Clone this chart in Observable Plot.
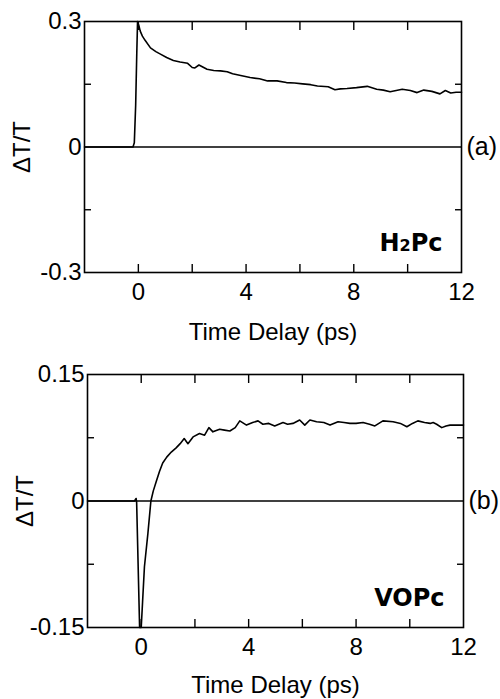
<!DOCTYPE html>
<html>
<head>
<meta charset="utf-8">
<script src="https://cdn.jsdelivr.net/npm/d3@7"></script>
<script src="https://cdn.jsdelivr.net/npm/@observablehq/plot@0.6"></script>
<style>
  html, body { margin: 0; padding: 0; background: #fff; }
  #chart { width: 500px; height: 699px; }
  #chart svg { display: block; }
</style>
</head>
<body>
<div id="chart"></div>
<script>
// ---- data ----
const timeA = [-2, -1, -0.2, -0.15, -0.1, -0.06, -0.03, 0.02, 0.07, 0.15, 0.25, 0.45, 0.65, 0.82, 1.05, 1.3, 1.55, 1.83, 2.0, 2.1, 2.25, 2.55, 2.8, 3.05, 3.3, 3.5, 3.8, 4.15, 4.5, 4.8, 5.15, 5.5, 5.8, 6.1, 6.4, 6.65, 7.05, 7.3, 7.5, 7.75, 8.1, 8.5, 8.85, 9.1, 9.35, 9.8, 10.1, 10.35, 10.6, 10.9, 11.2, 11.4, 11.6, 11.8, 12];
const valueA = [0, 0, 0, 0.01, 0.1, 0.22, 0.3, 0.29, 0.277, 0.265, 0.255, 0.237, 0.228, 0.222, 0.214, 0.207, 0.203, 0.2, 0.19, 0.189, 0.196, 0.186, 0.183, 0.182, 0.18, 0.175, 0.171, 0.166, 0.163, 0.158, 0.158, 0.154, 0.153, 0.151, 0.149, 0.146, 0.144, 0.137, 0.139, 0.140, 0.142, 0.145, 0.138, 0.136, 0.132, 0.138, 0.135, 0.13, 0.136, 0.133, 0.127, 0.135, 0.129, 0.131, 0.131];

const timeB = [-2, -0.25, -0.19, -0.17, -0.06, 0.0, 0.05, 0.12, 0.25, 0.36, 0.45, 0.56, 0.68, 0.8, 0.95, 1.12, 1.3, 1.45, 1.6, 1.74, 1.93, 2.17, 2.36, 2.52, 2.67, 2.92, 3.1, 3.3, 3.5, 3.67, 3.92, 4.15, 4.35, 4.53, 4.75, 4.97, 5.28, 5.45, 5.65, 5.9, 6.09, 6.28, 6.53, 6.8, 7.03, 7.33, 7.55, 7.77, 8.0, 8.26, 8.5, 8.7, 9.0, 9.38, 9.65, 9.89, 10.1, 10.3, 10.55, 10.76, 10.87, 11.0, 11.19, 11.35, 11.5, 11.75, 12];
const valueB = [0, 0, 0.003, -0.002, -0.15, -0.15, -0.12, -0.078, -0.038, 0, 0.012, 0.023, 0.035, 0.045, 0.052, 0.058, 0.063, 0.068, 0.074, 0.068, 0.076, 0.08, 0.078, 0.087, 0.082, 0.085, 0.084, 0.083, 0.087, 0.095, 0.09, 0.093, 0.095, 0.091, 0.092, 0.089, 0.093, 0.091, 0.092, 0.096, 0.090, 0.096, 0.094, 0.093, 0.090, 0.094, 0.093, 0.092, 0.092, 0.093, 0.091, 0.089, 0.095, 0.094, 0.092, 0.088, 0.092, 0.095, 0.093, 0.092, 0.093, 0.091, 0.087, 0.089, 0.090, 0.090, 0.090];

const xDomain = [-2, 12];
const xMinorTicks = [0, 2, 4, 6, 8, 10];
const xTickLabels = [0, 4, 8, 12];
const yDomainA = [-0.3, 0.3];
const yMinorTicksA = [-0.15, 0.15];
const yTickLabelsA = [-0.3, 0, 0.3];
const yDomainB = [-0.15, 0.15];
const yMinorTicksB = [-0.075, 0.075];
const yTickLabelsB = [-0.15, 0, 0.15];
const xTitle = "Time Delay (ps)";
const yTitle = "ΔT/T";
const panelTags = ["(a)", "(b)"];
const sampleNames = ["H2Pc", "VOPc"];

const FONT = "'Liberation Sans', Arial, Helvetica, sans-serif";

function panel({time, value, yDomain, yMinor, yLabels, tag, name, height, mt, mb, ml, mr, titleDy}) {
  const data = time.map((t, i) => ({t, v: value[i]}));
  const svg = Plot.plot({
    width: 500,
    height,
    marginTop: mt, marginBottom: mb, marginLeft: ml, marginRight: mr,
    style: {fontFamily: FONT, fontSize: "24px", color: "black", background: "white", overflow: "visible"},
    x: {domain: xDomain},
    y: {domain: yDomain},
    marks: [
      Plot.ruleY([0], {stroke: "black", strokeWidth: 1.5}),
      Plot.line(data, {x: "t", y: "v", stroke: "black", strokeWidth: 1.6}),
      Plot.frame({stroke: "black", strokeWidth: 1.6}),
      // inward minor ticks
      Plot.axisX(xMinorTicks, {anchor: "bottom", tickSize: 8, dy: -8, text: null, strokeWidth: 1.4, label: null}),
      Plot.axisX(xMinorTicks, {anchor: "top", tickSize: 8, dy: 8, text: null, strokeWidth: 1.4, label: null}),
      Plot.axisY(yMinor, {anchor: "left", tickSize: 7, dx: 7, text: null, strokeWidth: 1.4, label: null}),
      Plot.axisY(yMinor, {anchor: "right", tickSize: 7, dx: -7, text: null, strokeWidth: 1.4, label: null}),
      // tick labels
      Plot.axisX(xTickLabels, {anchor: "bottom", tickSize: 0, tickPadding: 10, fontSize: 24, tickFormat: d => String(d), label: null}),
      Plot.axisY(yLabels, {anchor: "left", tickSize: 0, tickPadding: 3, fontSize: 24, tickFormat: d => String(d), label: null}),
      // titles
      Plot.text([xTitle], {frameAnchor: "bottom", dy: titleDy, lineAnchor: "top", fontSize: 24, fill: "black", style: "letter-spacing:0.5px"}),
      Plot.text([yTitle], {frameAnchor: "left", dx: -62, rotate: -90, textAnchor: "middle", fontSize: 24, fill: "black", style: "letter-spacing:1.5px"}),
      Plot.text([tag], {frameAnchor: "right", dx: 5, textAnchor: "start", fontSize: 25, fill: "black"}),
      Plot.text([name], {frameAnchor: "bottom-right", dx: -19, dy: -22, textAnchor: "end", lineAnchor: "bottom",
        fontSize: 24, fontWeight: "bold", fontFamily: "'DejaVu Sans', sans-serif", fill: "black"})
    ]
  });
  svg.querySelectorAll("text").forEach(el => {
    if (el.textContent === "H2Pc") {
      el.textContent = "";
      const parts = [["H", null], ["2", "16px"], ["Pc", null]];
      for (const [s, fs] of parts) {
        const ts = document.createElementNS("http://www.w3.org/2000/svg", "tspan");
        ts.textContent = s;
        if (fs) ts.setAttribute("font-size", fs);
        el.appendChild(ts);
      }
    }
  });
  return svg;
}

const chart = document.getElementById("chart");
chart.appendChild(panel({time: timeA, value: valueA, yDomain: yDomainA, yMinor: yMinorTicksA, yLabels: yTickLabelsA,
  tag: panelTags[0], name: sampleNames[0], height: 350, mt: 21, mb: 78, ml: 84, mr: 39, titleDy: 50}));
chart.appendChild(panel({time: timeB, value: valueB, yDomain: yDomainB, yMinor: yMinorTicksB, yLabels: yTickLabelsB,
  tag: panelTags[1], name: sampleNames[1], height: 349, mt: 24, mb: 72, ml: 87, mr: 37, titleDy: 48}));
</script>
</body>
</html>
